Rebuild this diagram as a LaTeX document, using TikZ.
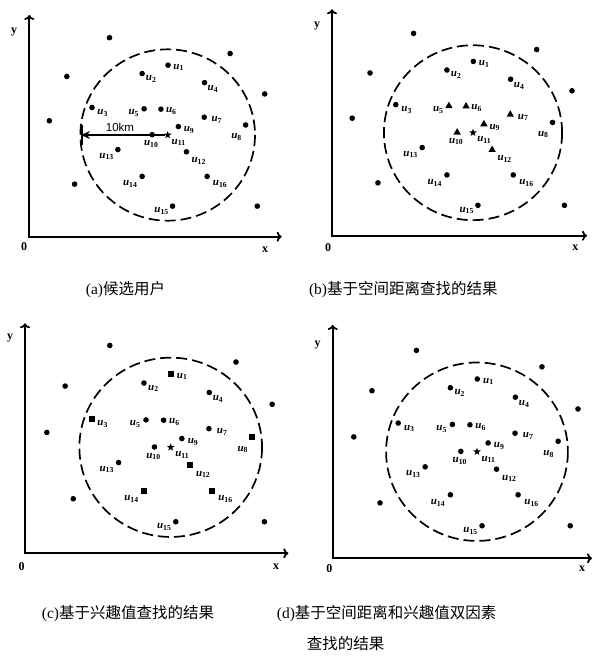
\documentclass[tikz,border=0pt]{standalone}
\usepackage{fontspec}
\setmainfont{Liberation Serif}
\setsansfont{Liberation Sans}
\newfontfamily\cjk{Noto Sans CJK SC}
\usetikzlibrary{shapes.geometric,arrows.meta}
\tikzset{
  ptdot/.style={circle,fill,inner sep=0pt,minimum size=5.6pt},
  pttri/.style={regular polygon,regular polygon sides=3,fill,inner sep=0pt,minimum size=8.5pt},
  ptsqr/.style={rectangle,fill,inner sep=0pt,minimum size=6pt},
  ptctr/.style={star,star points=5,star point ratio=2.4,fill,inner sep=0pt,minimum size=8pt},
  ulab/.style={font=\fontsize{11}{12}\selectfont,inner sep=0pt},
  axisline/.style={line width=1.8pt,{To[length=5pt,width=10pt]}-{To[length=5pt,width=10pt]}},
  ringline/.style={line width=1.7pt,dash pattern=on 11pt off 5pt},
  axlab/.style={font=\fontsize{12}{13}\selectfont\bfseries,inner sep=0pt},
  captext/.style={font=\fontsize{15.5}{18}\selectfont,inner sep=0pt},
  mb5/.style={pttri}, mb6/.style={pttri}, mb7/.style={pttri}, mb9/.style={pttri}, mb10/.style={pttri}, mb12/.style={pttri},
  mc1/.style={ptsqr}, mc3/.style={ptsqr}, mc8/.style={ptsqr}, mc12/.style={ptsqr}, mc14/.style={ptsqr}, mc16/.style={ptsqr}
}
\newcommand{\ulabtext}[1]{{\bfseries\itshape u}\textsubscript{\bfseries #1}}
\newcommand{\drawpanel}[4]{%
\begin{scope}[shift={(#2,#3)},scale=#4/3]
  \draw[ringline] (0,0) ellipse [x radius=270, y radius=265];
  \node[ptctr] (#1-c) at (0,0) {};
  \foreach \n/\px/\py/\lx/\ly in {1/1/-216/34/-209, 2/-79/-190/-51/-174, 3/-234/-85/-201/-69,
      4/114/-162/140/-142, 5/-73/-81/-105/-68, 6/-21/-80/11/-74, 7/113/-55/152/-46,
      8/241/-31/213/6, 9/33/-26/66/-16, 10/-48/-1/-51/27, 12/58/52/96/80,
      13/-154/45/-189/66, 14/-79/128/-116/152, 15/15/220/-19/236, 16/122/128/162/152}{
    \node[ptdot, m#1\n/.try] (#1-u\n) at (\px,\py) {};
    \node[ulab] (#1-l\n) at (\lx,\ly) {\ulabtext{\n}};
  }
  \node[ulab] (#1-l11) at (34,23) {\ulabtext{11}};
  \foreach \k/\px/\py in {1/-180/-301, 2/-312/-181, 3/-366/-44, 4/-288/152, 5/193/-252, 6/300/-127, 7/277/220}{
    \node[ptdot] (#1-o\k) at (\px,\py) {};
  }
\end{scope}}
\begin{document}
\begin{tikzpicture}[x=1pt,y=-1pt]
\useasboundingbox[fill=white] (0,0) rectangle (594,657);

% panel (a)
\coordinate (a-o) at (29.3,236.7);
\coordinate (a-yt) at (29.3,15);
\coordinate (a-xt) at (281.7,236.7);
\draw[axisline] (a-yt) -- (a-o) -- (a-xt);
\node[axlab] (a-y) at (14,32) {y};
\node[axlab] (a-0) at (24,247) {0};
\node[axlab] (a-x) at (265,250) {x};
\drawpanel{a}{167.7}{135}{0.97}
\coordinate (a-r) at (81,135);
\draw[line width=1.2pt,-{Stealth[length=9pt,width=8pt]}] (a-c) -- (a-r);
\draw[line width=1.2pt,-{Bar[width=20pt,line width=1.8pt]}] (a-c) -- (a-r);
\node[font=\sffamily\fontsize{11.5}{12}\selectfont,inner sep=0pt] (a-km) at (120,127.5) {10km};
\node[captext] (a-cap) at (125.5,290) {(a)\cjk 候选用户};

% panel (b)
\coordinate (b-o) at (332,235.7);
\coordinate (b-yt) at (332,9.3);
\coordinate (b-xt) at (587,235.7);
\draw[axisline] (b-yt) -- (b-o) -- (b-xt);
\node[axlab] (b-y) at (317,26) {y};
\node[axlab] (b-0) at (328,248) {0};
\node[axlab] (b-x) at (575.3,248) {x};
\drawpanel{b}{473}{132.7}{0.99}
\node[captext] (b-cap) at (403.3,290) {(b)\cjk 基于空间距离查找的结果};

% panel (c)
\coordinate (c-o) at (25,553.3);
\coordinate (c-yt) at (25,323.3);
\coordinate (c-xt) at (288.3,553.3);
\draw[axisline] (c-yt) -- (c-o) -- (c-xt);
\node[axlab] (c-y) at (10,338) {y};
\node[axlab] (c-0) at (21.7,566.7) {0};
\node[axlab] (c-x) at (276,566.7) {x};
\drawpanel{c}{170.7}{447.3}{1.015}
\node[captext] (c-cap) at (128,613.3) {(c)\cjk 基于兴趣值查找的结果};

% panel (d)
\coordinate (d-o) at (332.7,558.3);
\coordinate (d-yt) at (332.7,325);
\coordinate (d-xt) at (592,558.3);
\draw[axisline] (d-yt) -- (d-o) -- (d-xt);
\node[axlab] (d-y) at (317.7,345) {y};
\node[axlab] (d-0) at (329.3,568.3) {0};
\node[axlab] (d-x) at (582,568.3) {x};
\drawpanel{d}{477}{451.7}{1.01}
\node[captext,anchor=west] (d-cap1) at (276.7,613.3) {(d)\cjk 基于空间距离和兴趣值双因素};
\node[captext,anchor=west] (d-cap2) at (306.7,643.3) {\cjk 查找的结果};
\end{tikzpicture}
\end{document}
